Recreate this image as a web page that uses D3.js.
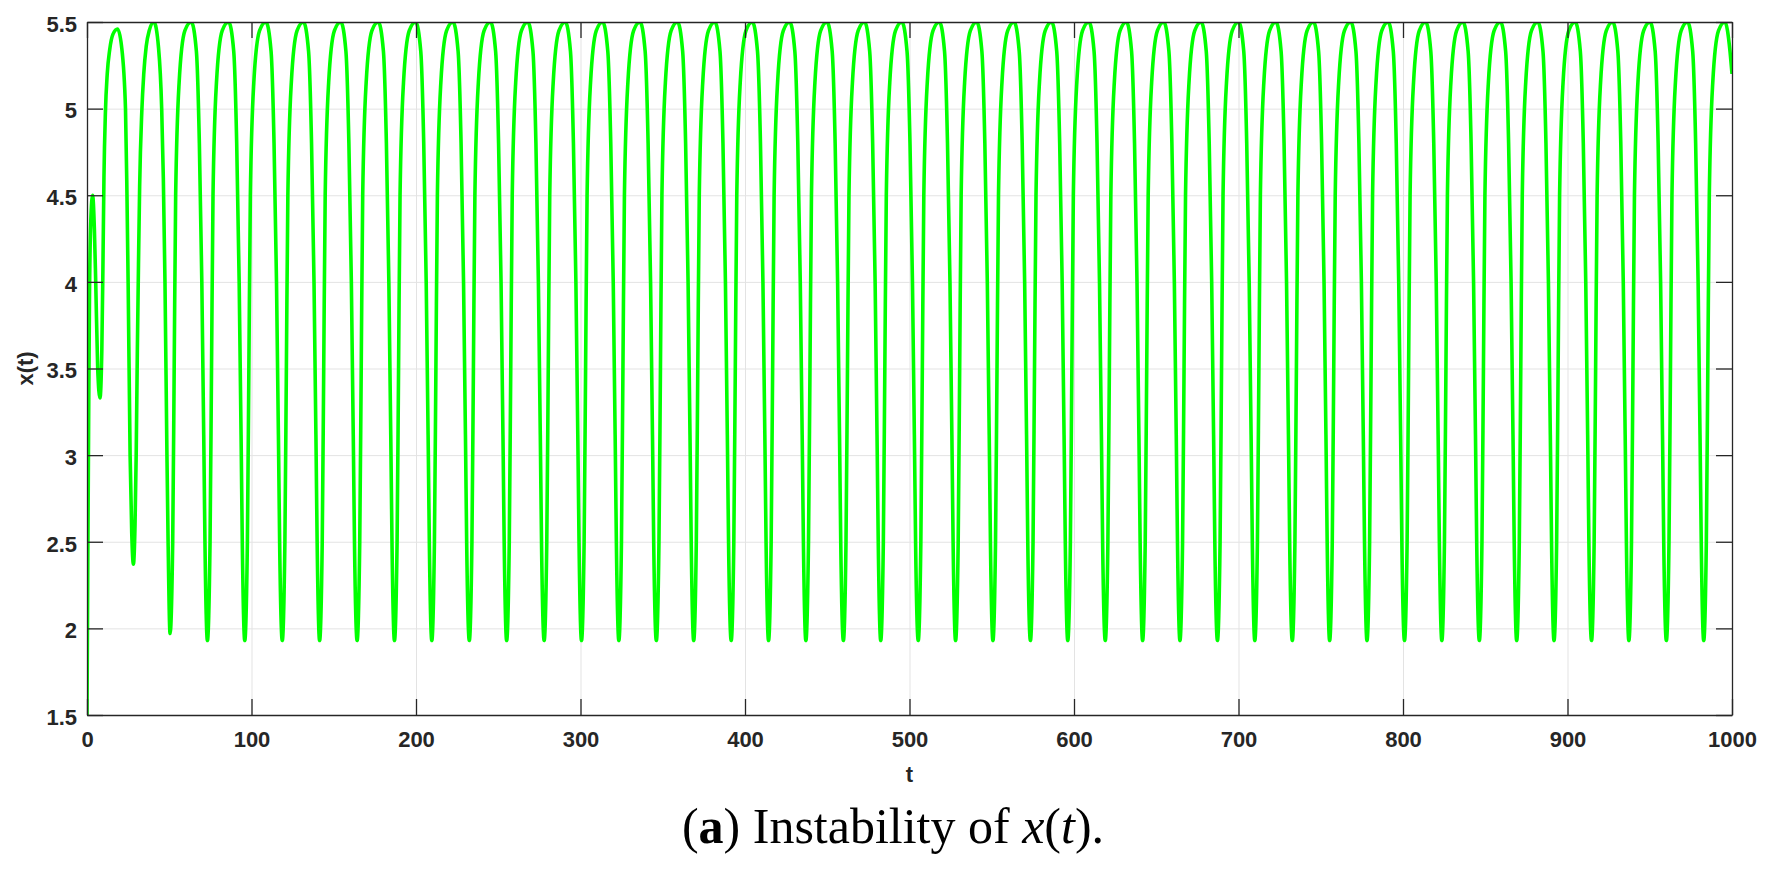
<!DOCTYPE html>
<html>
<head>
<meta charset="utf-8">
<script src="https://cdn.jsdelivr.net/npm/d3@7"></script>
<style>
  body { margin: 0; background: #fff; }
  svg { display: block; }
  .tick text { font-family: "Liberation Sans", Arial, sans-serif; font-weight: bold; font-size: 22px; fill: #262626; }
</style>
</head>
<body>
<div id="chart"></div>
<script>
// tick values
const xTicks = [0, 100, 200, 300, 400, 500, 600, 700, 800, 900, 1000]
const yTicks = [1.5, 2, 2.5, 3, 3.5, 4, 4.5, 5, 5.5]

// x(t): the start-up transient, then one line per cycle (trough ... next trough)
const transient = [
    [0, 1.5], [0.5, 2.4], [1.0, 3.2], [1.5, 3.9], [2.3, 4.35], [3.4, 4.5], [4.5, 4.3], [5.3, 4.0], [6.5, 3.5], [7.9, 3.33],
    [9.0, 3.6], [9.7, 4.1], [10.3, 4.6], [11.2, 4.98], [12.3, 5.2], [13.8, 5.34], [15.8, 5.43], [18.6, 5.46], [21.0, 5.36], [23.4, 5.0],
    [24.3, 4.5], [25.0, 4.0], [26.2, 3.0], [27.2, 2.55], [28.2, 2.37], [29.2, 2.6], [29.9, 3.0], [30.6, 3.6], [31.3, 4.1],
    [32.0, 4.55], [33.3, 4.98], [34.5, 5.2], [36.0, 5.36], [37.8, 5.45], [40.7, 5.5], [43.5, 5.35], [45.4, 5.0], [46.4, 4.6], [47.4, 4.0],
    [48.6, 3.0], [49.3, 2.5]
]

const cycles = [
    [50.5,1.97],[52.1,2.5],[53.0,3.5],[53.9,4.5],[56.0,5.15],[59.5,5.45],[63.4,5.5],[66.5,5.33],[68.3,4.8],[69.8,4.0],[71.1,3.0],[71.7,2.5],
    [73.2,1.93],[74.8,2.5],[75.7,3.5],[76.6,4.5],[78.7,5.15],[82.2,5.45],[86.1,5.5],[89.2,5.33],[91.0,4.8],[92.5,4.0],[93.8,3.0],[94.4,2.5],
    [95.9,1.93],[97.5,2.5],[98.4,3.5],[99.3,4.5],[101.4,5.15],[104.9,5.45],[108.8,5.5],[111.9,5.33],[113.7,4.8],[115.2,4.0],[116.5,3.0],[117.1,2.5],
    [118.7,1.93],[120.3,2.5],[121.2,3.5],[122.1,4.5],[124.2,5.15],[127.7,5.45],[131.6,5.5],[134.7,5.33],[136.5,4.8],[138.0,4.0],[139.3,3.0],[139.9,2.5],
    [141.4,1.93],[143.0,2.5],[143.9,3.5],[144.8,4.5],[146.9,5.15],[150.4,5.45],[154.3,5.5],[157.4,5.33],[159.2,4.8],[160.7,4.0],[162.0,3.0],[162.6,2.5],
    [164.2,1.93],[165.8,2.5],[166.7,3.5],[167.6,4.5],[169.7,5.15],[173.2,5.45],[177.1,5.5],[180.2,5.33],[182.0,4.8],[183.5,4.0],[184.8,3.0],[185.4,2.5],
    [186.9,1.93],[188.5,2.5],[189.4,3.5],[190.3,4.5],[192.4,5.15],[195.9,5.45],[199.8,5.5],[202.9,5.33],[204.7,4.8],[206.2,4.0],[207.5,3.0],[208.1,2.5],
    [209.6,1.93],[211.2,2.5],[212.1,3.5],[213.0,4.5],[215.1,5.15],[218.6,5.45],[222.5,5.5],[225.6,5.33],[227.4,4.8],[228.9,4.0],[230.2,3.0],[230.8,2.5],
    [232.4,1.93],[234.0,2.5],[234.9,3.5],[235.8,4.5],[237.9,5.15],[241.4,5.45],[245.3,5.5],[248.4,5.33],[250.2,4.8],[251.7,4.0],[253.0,3.0],[253.6,2.5],
    [255.1,1.93],[256.7,2.5],[257.6,3.5],[258.5,4.5],[260.6,5.15],[264.1,5.45],[268.0,5.5],[271.1,5.33],[272.9,4.8],[274.4,4.0],[275.7,3.0],[276.3,2.5],
    [277.9,1.93],[279.5,2.5],[280.4,3.5],[281.3,4.5],[283.4,5.15],[286.9,5.45],[290.8,5.5],[293.9,5.33],[295.7,4.8],[297.2,4.0],[298.5,3.0],[299.1,2.5],
    [300.6,1.93],[302.2,2.5],[303.1,3.5],[304.0,4.5],[306.1,5.15],[309.6,5.45],[313.5,5.5],[316.6,5.33],[318.4,4.8],[319.9,4.0],[321.2,3.0],[321.8,2.5],
    [323.3,1.93],[324.9,2.5],[325.8,3.5],[326.7,4.5],[328.8,5.15],[332.3,5.45],[336.2,5.5],[339.3,5.33],[341.1,4.8],[342.6,4.0],[343.9,3.0],[344.5,2.5],
    [346.1,1.93],[347.7,2.5],[348.6,3.5],[349.5,4.5],[351.6,5.15],[355.1,5.45],[359.0,5.5],[362.1,5.33],[363.9,4.8],[365.4,4.0],[366.7,3.0],[367.3,2.5],
    [368.8,1.93],[370.4,2.5],[371.3,3.5],[372.2,4.5],[374.3,5.15],[377.8,5.45],[381.7,5.5],[384.8,5.33],[386.6,4.8],[388.1,4.0],[389.4,3.0],[390.0,2.5],
    [391.6,1.93],[393.2,2.5],[394.1,3.5],[395.0,4.5],[397.1,5.15],[400.6,5.45],[404.5,5.5],[407.6,5.33],[409.4,4.8],[410.9,4.0],[412.2,3.0],[412.8,2.5],
    [414.3,1.93],[415.9,2.5],[416.8,3.5],[417.7,4.5],[419.8,5.15],[423.3,5.45],[427.2,5.5],[430.3,5.33],[432.1,4.8],[433.6,4.0],[434.9,3.0],[435.5,2.5],
    [437.0,1.93],[438.6,2.5],[439.5,3.5],[440.4,4.5],[442.5,5.15],[446.0,5.45],[449.9,5.5],[453.0,5.33],[454.8,4.8],[456.3,4.0],[457.6,3.0],[458.2,2.5],
    [459.8,1.93],[461.4,2.5],[462.3,3.5],[463.2,4.5],[465.3,5.15],[468.8,5.45],[472.7,5.5],[475.8,5.33],[477.6,4.8],[479.1,4.0],[480.4,3.0],[481.0,2.5],
    [482.5,1.93],[484.1,2.5],[485.0,3.5],[485.9,4.5],[488.0,5.15],[491.5,5.45],[495.4,5.5],[498.5,5.33],[500.3,4.8],[501.8,4.0],[503.1,3.0],[503.7,2.5],
    [505.3,1.93],[506.9,2.5],[507.8,3.5],[508.7,4.5],[510.8,5.15],[514.3,5.45],[518.2,5.5],[521.3,5.33],[523.1,4.8],[524.6,4.0],[525.9,3.0],[526.5,2.5],
    [528.0,1.93],[529.6,2.5],[530.5,3.5],[531.4,4.5],[533.5,5.15],[537.0,5.45],[540.9,5.5],[544.0,5.33],[545.8,4.8],[547.3,4.0],[548.6,3.0],[549.2,2.5],
    [550.7,1.93],[552.3,2.5],[553.2,3.5],[554.1,4.5],[556.2,5.15],[559.7,5.45],[563.6,5.5],[566.7,5.33],[568.5,4.8],[570.0,4.0],[571.3,3.0],[571.9,2.5],
    [573.5,1.93],[575.1,2.5],[576.0,3.5],[576.9,4.5],[579.0,5.15],[582.5,5.45],[586.4,5.5],[589.5,5.33],[591.3,4.8],[592.8,4.0],[594.1,3.0],[594.7,2.5],
    [596.2,1.93],[597.8,2.5],[598.7,3.5],[599.6,4.5],[601.7,5.15],[605.2,5.45],[609.1,5.5],[612.2,5.33],[614.0,4.8],[615.5,4.0],[616.8,3.0],[617.4,2.5],
    [619.0,1.93],[620.6,2.5],[621.5,3.5],[622.4,4.5],[624.5,5.15],[628.0,5.45],[631.9,5.5],[635.0,5.33],[636.8,4.8],[638.3,4.0],[639.6,3.0],[640.2,2.5],
    [641.7,1.93],[643.3,2.5],[644.2,3.5],[645.1,4.5],[647.2,5.15],[650.7,5.45],[654.6,5.5],[657.7,5.33],[659.5,4.8],[661.0,4.0],[662.3,3.0],[662.9,2.5],
    [664.4,1.93],[666.0,2.5],[666.9,3.5],[667.8,4.5],[669.9,5.15],[673.4,5.45],[677.3,5.5],[680.4,5.33],[682.2,4.8],[683.7,4.0],[685.0,3.0],[685.6,2.5],
    [687.2,1.93],[688.8,2.5],[689.7,3.5],[690.6,4.5],[692.7,5.15],[696.2,5.45],[700.1,5.5],[703.2,5.33],[705.0,4.8],[706.5,4.0],[707.8,3.0],[708.4,2.5],
    [709.9,1.93],[711.5,2.5],[712.4,3.5],[713.3,4.5],[715.4,5.15],[718.9,5.45],[722.8,5.5],[725.9,5.33],[727.7,4.8],[729.2,4.0],[730.5,3.0],[731.1,2.5],
    [732.7,1.93],[734.3,2.5],[735.2,3.5],[736.1,4.5],[738.2,5.15],[741.7,5.45],[745.6,5.5],[748.7,5.33],[750.5,4.8],[752.0,4.0],[753.3,3.0],[753.9,2.5],
    [755.4,1.93],[757.0,2.5],[757.9,3.5],[758.8,4.5],[760.9,5.15],[764.4,5.45],[768.3,5.5],[771.4,5.33],[773.2,4.8],[774.7,4.0],[776.0,3.0],[776.6,2.5],
    [778.1,1.93],[779.7,2.5],[780.6,3.5],[781.5,4.5],[783.6,5.15],[787.1,5.45],[791.0,5.5],[794.1,5.33],[795.9,4.8],[797.4,4.0],[798.7,3.0],[799.3,2.5],
    [800.9,1.93],[802.5,2.5],[803.4,3.5],[804.3,4.5],[806.4,5.15],[809.9,5.45],[813.8,5.5],[816.9,5.33],[818.7,4.8],[820.2,4.0],[821.5,3.0],[822.1,2.5],
    [823.6,1.93],[825.2,2.5],[826.1,3.5],[827.0,4.5],[829.1,5.15],[832.6,5.45],[836.5,5.5],[839.6,5.33],[841.4,4.8],[842.9,4.0],[844.2,3.0],[844.8,2.5],
    [846.4,1.93],[848.0,2.5],[848.9,3.5],[849.8,4.5],[851.9,5.15],[855.4,5.45],[859.3,5.5],[862.4,5.33],[864.2,4.8],[865.7,4.0],[867.0,3.0],[867.6,2.5],
    [869.1,1.93],[870.7,2.5],[871.6,3.5],[872.5,4.5],[874.6,5.15],[878.1,5.45],[882.0,5.5],[885.1,5.33],[886.9,4.8],[888.4,4.0],[889.7,3.0],[890.3,2.5],
    [891.8,1.93],[893.4,2.5],[894.3,3.5],[895.2,4.5],[897.3,5.15],[900.8,5.45],[904.7,5.5],[907.8,5.33],[909.6,4.8],[911.1,4.0],[912.4,3.0],[913.0,2.5],
    [914.6,1.93],[916.2,2.5],[917.1,3.5],[918.0,4.5],[920.1,5.15],[923.6,5.45],[927.5,5.5],[930.6,5.33],[932.4,4.8],[933.9,4.0],[935.2,3.0],[935.8,2.5],
    [937.3,1.93],[938.9,2.5],[939.8,3.5],[940.7,4.5],[942.8,5.15],[946.3,5.45],[950.2,5.5],[953.3,5.33],[955.1,4.8],[956.6,4.0],[957.9,3.0],[958.5,2.5],
    [960.1,1.93],[961.7,2.5],[962.6,3.5],[963.5,4.5],[965.6,5.15],[969.1,5.45],[973.0,5.5],[976.1,5.33],[977.9,4.8],[979.4,4.0],[980.7,3.0],[981.3,2.5],
    [982.8,1.93],[984.4,2.5],[985.3,3.5],[986.2,4.5],[988.3,5.15],[991.8,5.45],[995.7,5.5],[998.8,5.33],[1000,5.2]
]

const series = transient.concat(cycles)

const W = 1771, H = 872
const margin = {top: 22, right: 39, bottom: 157, left: 87}
const innerW = W - margin.left - margin.right,
    innerH = H - margin.top - margin.bottom

const svg = d3.select("#chart")
    .append("svg")
    .attr("width", W)
    .attr("height", H)

svg.append("rect").attr("width", W).attr("height", H).attr("fill", "#fff")

const g = svg.append("g")
    .attr("transform", `translate(${margin.left},${margin.top})`)

const x = d3.scaleLinear().domain([0, 1000]).range([0, innerW])
const y = d3.scaleLinear().domain([1.5, 5.5]).range([innerH, 0])

// grid
g.append("g")
    .attr("transform", `translate(0,${innerH})`)
    .call(d3.axisBottom(x).tickValues(xTicks).tickSize(-innerH).tickFormat(""))
    .call(s => s.select(".domain").remove())
    .call(s => s.selectAll("line").attr("stroke", "#e3e3e3").attr("stroke-width", 1))
g.append("g")
    .call(d3.axisLeft(y).tickValues(yTicks).tickSize(-innerW).tickFormat(""))
    .call(s => s.select(".domain").remove())
    .call(s => s.selectAll("line").attr("stroke", "#e3e3e3").attr("stroke-width", 1))

// the curve, clipped to the axes like matlab does
g.append("clipPath").attr("id", "plotClip")
    .append("rect").attr("width", innerW).attr("height", innerH)

const line = d3.line()
    .x(d => x(d[0]))
    .y(d => y(d[1]))
    .curve(d3.curveMonotoneX)

g.append("path")
    .datum(series)
    .attr("clip-path", "url(#plotClip)")
    .attr("fill", "none")
    .attr("stroke", "#00ff00")
    .attr("stroke-width", 3.6)
    .attr("stroke-linejoin", "round")
    .attr("d", line)

// axes (box with inward ticks on all four sides)
const styleAxis = s => {
    s.select(".domain").attr("stroke", "#262626").attr("stroke-width", 1.3)
    s.selectAll(".tick line").attr("stroke", "#262626").attr("stroke-width", 1.3)
}

g.append("g")
    .attr("transform", `translate(0,${innerH})`)
    .call(d3.axisBottom(x).tickValues(xTicks).tickSizeInner(-16).tickSizeOuter(0).tickPadding(16).tickFormat(d => String(d)))
    .call(styleAxis)

g.append("g")
    .call(d3.axisLeft(y).tickValues(yTicks).tickSizeInner(-16).tickSizeOuter(0).tickPadding(10).tickFormat(d => String(d)))
    .call(styleAxis)
    .call(s => s.selectAll(".tick text").attr("dy", "0.42em"))

g.append("g")
    .call(d3.axisTop(x).tickValues(xTicks).tickSizeInner(-16).tickSizeOuter(0).tickFormat(""))
    .call(styleAxis)

g.append("g")
    .attr("transform", `translate(${innerW},0)`)
    .call(d3.axisRight(y).tickValues(yTicks).tickSizeInner(-16).tickSizeOuter(0).tickFormat(""))
    .call(styleAxis)

// axis labels
g.append("text")
    .attr("x", innerW / 2)
    .attr("y", innerH + 67)
    .attr("text-anchor", "middle")
    .attr("font-family", "Liberation Sans, Arial, sans-serif")
    .attr("font-weight", "bold")
    .attr("font-size", 22)
    .attr("fill", "#262626")
    .text("t")

g.append("text")
    .attr("transform", `translate(${33 - margin.left},${innerH / 2}) rotate(-90)`)
    .attr("text-anchor", "middle")
    .attr("font-family", "Liberation Sans, Arial, sans-serif")
    .attr("font-weight", "bold")
    .attr("font-size", 22)
    .attr("fill", "#262626")
    .text("x(t)")

// caption under the figure
const caption = svg.append("text")
    .attr("x", 893)
    .attr("y", 843)
    .attr("text-anchor", "middle")
    .attr("font-family", "Liberation Serif, Times New Roman, serif")
    .attr("font-size", 50)
    .attr("fill", "#000")

caption.append("tspan").text("(")
caption.append("tspan").attr("font-weight", "bold").text("a")
caption.append("tspan").text(") Instability of ")
caption.append("tspan").attr("font-style", "italic").text("x")
caption.append("tspan").text("(")
caption.append("tspan").attr("font-style", "italic").text("t")
caption.append("tspan").text(").")
</script>
</body>
</html>
